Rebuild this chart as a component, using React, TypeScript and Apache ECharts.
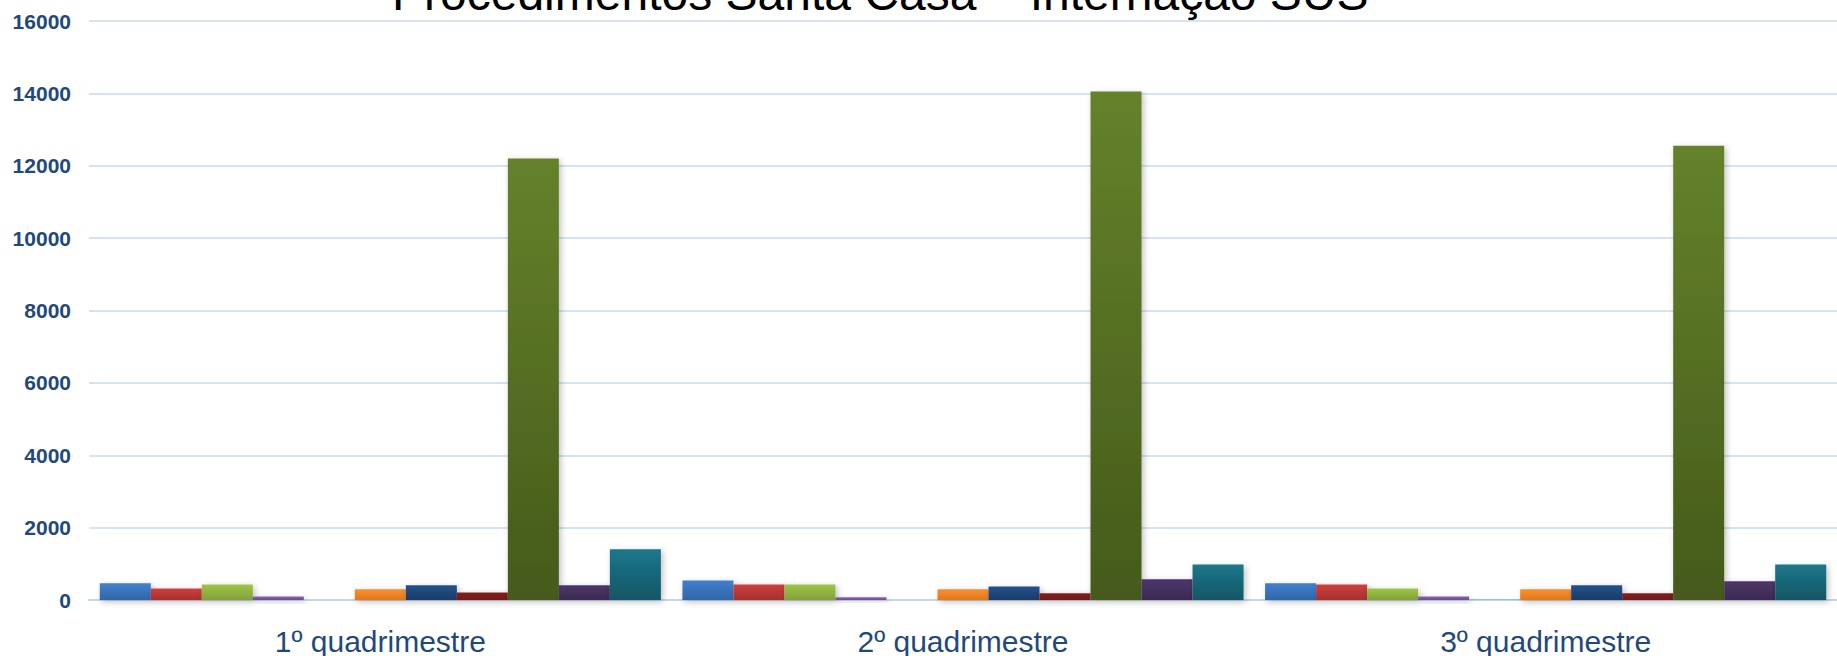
import React, { useEffect, useRef } from "react";
import * as echarts from "echarts";

const categories = ["1º quadrimestre", "2º quadrimestre", "3º quadrimestre"];
const yTicks = [0, 2000, 4000, 6000, 8000, 10000, 12000, 14000, 16000];

const s1 = [460, 540, 460];
const s2 = [320, 430, 430];
const s3 = [430, 430, 320];
const s4 = [100, 75, 100];
const s5 = [0, 0, 15];
const s6 = [295, 295, 295];
const s7 = [405, 375, 405];
const s8 = [210, 185, 185];
const s9 = [12200, 14050, 12550];
const s10 = [405, 570, 515];
const s11 = [1400, 980, 980];

const seriesValues = [s1, s2, s3, s4, s5, s6, s7, s8, s9, s10, s11];
const seriesNames = [
  "Série 1", "Série 2", "Série 3", "Série 4", "Série 5", "Série 6",
  "Série 7", "Série 8", "Série 9", "Série 10", "Série 11",
];
const gradients: [string, string][] = [
  ["#3F80D0", "#3366A5"],
  ["#CE403D", "#A6302E"],
  ["#9DC646", "#82A03A"],
  ["#8763B2", "#6A4D8F"],
  ["#5DB8D2", "#3E93AD"],
  ["#F8902B", "#E0791D"],
  ["#23528C", "#1B3B66"],
  ["#881F1F", "#6D1A1A"],
  ["#64822B", "#455A1A"],
  ["#4D3769", "#3B2951"],
  ["#1C778B", "#135665"],
];

export default function App() {
  const ref = useRef<HTMLDivElement>(null);
  useEffect(() => {
    if (!ref.current) return;
    const chart = echarts.init(ref.current, null, { renderer: "svg" });
    chart.setOption({
      animation: false,
      backgroundColor: "#FFFFFF",
      grid: { left: 89, right: 0, top: 21, bottom: 55, containLabel: false },
      graphic: [
        {
          type: "text",
          left: 392,
          top: -31,
          style: {
            text: "Procedimentos Santa Casa – Internação SUS",
            fill: "#000000",
            font: "48px Arial, 'Liberation Sans', sans-serif",
          },
          z: 10,
        },
      ],
      xAxis: {
        type: "category",
        data: categories,
        axisTick: { show: false },
        axisLine: { show: true, lineStyle: { color: "#C6D6EA", width: 2 } },
        axisLabel: {
          color: "#1F497D",
          fontSize: 30,
          lineHeight: 24,
          fontFamily: "Arial, 'Liberation Sans', sans-serif",
          margin: 29,
        },
      },
      yAxis: {
        type: "value",
        min: 0,
        max: yTicks[yTicks.length - 1],
        interval: 2000,
        axisLine: { show: false },
        axisTick: { show: false },
        splitLine: { lineStyle: { color: "#D6E3F2", width: 2 } },
        axisLabel: {
          color: "#1F497D",
          fontSize: 21,
          fontWeight: "bold",
          fontFamily: "Arial, 'Liberation Sans', sans-serif",
          margin: 18,
          formatter: (v: number) => String(v),
        },
      },
      series: seriesValues.map((vals, i) => ({
        name: seriesNames[i],
        type: "bar",
        data: vals,
        barGap: "0%",
        barCategoryGap: "3.7%",
        itemStyle: {
          color: new echarts.graphic.LinearGradient(0, 0, 0, 1, [
            { offset: 0, color: gradients[i][0] },
            { offset: 1, color: gradients[i][1] },
          ]),
          shadowBlur: 6,
          shadowColor: "rgba(0,0,0,0.25)",
          shadowOffsetX: 2,
          shadowOffsetY: 2,
        },
      })),
    });
    return () => chart.dispose();
  }, []);
  return (
    <div
      ref={ref}
      style={{ position: "fixed", left: 0, top: 0, width: 1837, height: 656 }}
    />
  );
}
